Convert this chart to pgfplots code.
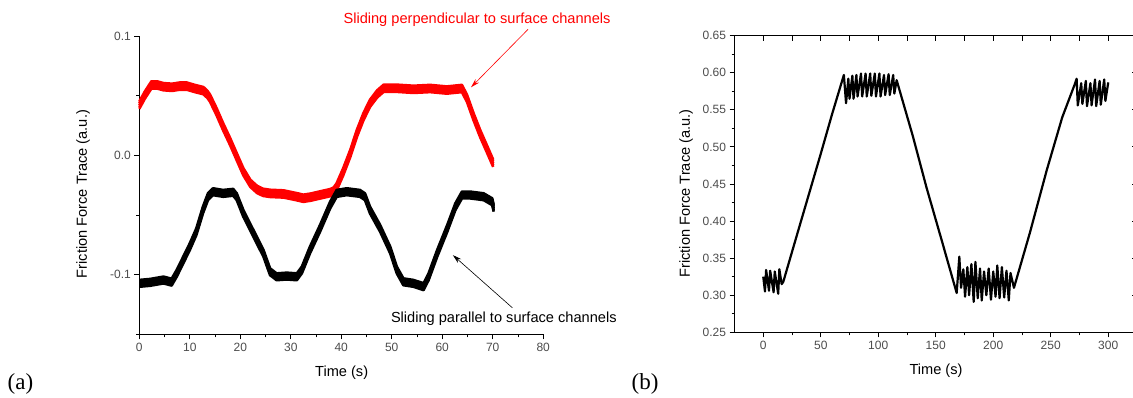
\documentclass[border=0pt]{standalone}
\usepackage{fontspec}
\setmainfont{Liberation Sans}
\newfontfamily\seriffont{Liberation Serif}
\usepackage{pgfplots}
\usepackage{pgfplotstable}
\pgfplotsset{compat=1.18}
\usetikzlibrary{arrows.meta}

\pgfplotstableread{
x y
0 0.042
1.1 0.0505
2.4 0.059
3.5 0.059
4.8 0.0575
6.5 0.057
8 0.058
9.4 0.058
11 0.056
12.7 0.0542
13.5 0.051
14.0 0.048
15.3 0.0366
16.6 0.024
18.0 0.0114
19.3 -0.0012
20.6 -0.0137
22.0 -0.0235
23.3 -0.0285
24.5 -0.031
25.9 -0.0319
28.6 -0.0324
31.2 -0.0347
32.5 -0.036
34 -0.035
35.1 -0.0339
37.8 -0.0313
38.5 -0.030
39.1 -0.0263
40.4 -0.0137
41.8 0.0017
43.1 0.0184
44.4 0.0324
45.7 0.0436
47.1 0.0514
48.4 0.0562
51.0 0.0562
54.3 0.0553
57.6 0.056
60.9 0.0547
63.9 0.056
64.9 0.0478
66.2 0.0324
67.5 0.0184
68.8 0.0059
70.1 -0.0067
}\perp

\pgfplotstableread{
x y
0.0 -0.1073
2.1 -0.1065
4.8 -0.1045
6.4 -0.1063
7.4 -0.099
8.7 -0.0878
10.0 -0.0766
11.3 -0.064
12.6 -0.0459
13.6 -0.0347
14.6 -0.0305
16.6 -0.0319
18.6 -0.031
19.3 -0.0347
20.6 -0.0486
22.6 -0.0654
24.6 -0.0822
25.9 -0.0976
27.2 -0.1018
29.2 -0.1012
31.2 -0.1018
32.2 -0.0961
33.8 -0.0794
35.8 -0.0612
37.8 -0.0417
39.1 -0.0319
41.1 -0.0305
43.7 -0.0319
44.7 -0.0347
45.7 -0.0459
47.7 -0.0612
49.7 -0.0794
51.0 -0.0961
52.3 -0.106
54.3 -0.1073
56.3 -0.1101
57.3 -0.1018
59.0 -0.0822
61.0 -0.0612
62.6 -0.0431
63.9 -0.0333
65.6 -0.0333
68.2 -0.0347
69.9 -0.0389
70.2 -0.0444
}\para

\pgfplotstableread{
x y
0 0.325
1.5 0.305
2.5 0.334
5 0.306
6 0.333
9 0.304
10 0.332
13 0.302
14 0.335
16 0.315
17.4 0.318
30 0.385
49.3 0.487
60 0.545
70.1 0.597
72 0.559
74 0.592
75 0.565
77.5 0.596
78.5 0.565
81 0.597
82 0.568
85 0.599
86 0.568
89 0.599
90 0.568
93 0.599
94 0.569
97 0.599
98 0.568
101 0.599
102 0.568
105 0.597
106 0.57
109 0.598
110 0.57
113 0.597
114 0.572
116 0.59
130 0.515
142 0.445
155 0.375
168.2 0.303
170.5 0.352
172 0.31
174 0.335
175.5 0.298
177.5 0.338
179 0.30
181 0.342
183 0.291
184.5 0.345
186.5 0.296
188.5 0.336
190 0.293
192 0.332
194 0.30
196 0.336
198 0.294
200 0.332
202 0.298
203.5 0.34
205.5 0.296
207.5 0.338
209.5 0.297
211.5 0.333
213.5 0.293
215 0.33
218 0.31
232 0.385
246.4 0.468
260 0.54
271 0.585
272.5 0.592
273.5 0.556
276.5 0.586
277.5 0.558
280.5 0.589
281.5 0.555
284.5 0.586
285.5 0.556
288.5 0.591
289.5 0.555
292.5 0.589
293.5 0.557
296.5 0.591
297.5 0.562
300 0.587
}\stick

\pgfplotsset{
  mystyle/.style={
    scale only axis,
    tick align=outside,
    major tick length=5pt,
    minor tick length=3pt,
    every tick/.style={black, line width=0.9pt},
    axis line style={line width=1.1pt, -},
    ticklabel style={font=\fontsize{12}{14}\selectfont, text=black!70},
    label style={font=\fontsize{14.6}{17}\selectfont},
    /pgf/number format/assume math mode=true,
    clip=false,
  },
  band/.style={line width=2.6pt, line join=round},
}

\begin{document}
\begin{tikzpicture}
\useasboundingbox (0,0) rectangle (1133pt,398pt);

% Panel (a)
\begin{axis}[mystyle,
  at={(139.3pt,63.7pt)}, anchor=south west,
  width=403.9pt, height=298.3pt,
  xmin=0, xmax=80, ymin=-0.15, ymax=0.1,
  axis x line*=bottom, axis y line*=left,
  xtick={0,10,...,80}, minor x tick num=1,
  ytick={-0.1,0,0.1}, minor ytick={-0.15,-0.05,0.05},
  yticklabel style={/pgf/number format/fixed, /pgf/number format/fixed zerofill, /pgf/number format/precision=1},
  xlabel={Time (s)}, ylabel={Friction Force Trace (a.u.)},
  xlabel style={at={(axis description cs:0.501,-0.129)}, anchor=center},
  ylabel style={at={(axis description cs:-0.139,0.470)}, anchor=center},
]
\addplot[red, band, yshift=-3.6pt] table {\perp};
\addplot[red, band, yshift=-1.8pt] table {\perp};
\addplot[red, band] table {\perp};
\addplot[red, band, yshift=1.8pt] table {\perp};
\addplot[red, band, yshift=3.6pt] table {\perp};
\addplot[black, band, yshift=-3.4pt] table {\para};
\addplot[black, band, yshift=-1.7pt] table {\para};
\addplot[black, band] table {\para};
\addplot[black, band, yshift=1.7pt] table {\para};
\addplot[black, band, yshift=3.4pt] table {\para};
\node[text=red, font=\fontsize{14.6}{17}\selectfont] at (axis cs:66.9,0.1134) {Sliding perpendicular to surface channels};
\draw[red, line width=0.6pt, -{Stealth[length=9pt,width=5pt]}] (axis cs:77.0,0.1056) -- (axis cs:65.7,0.057);
\node[font=\fontsize{14.6}{17}\selectfont] at (axis cs:72.2,-0.1372) {Sliding parallel to surface channels};
\draw[black, line width=0.6pt, -{Stealth[length=9pt,width=5pt]}] (axis cs:73.9,-0.1278) -- (axis cs:62.1,-0.0836);
\end{axis}

% Panel (b)
\begin{axis}[mystyle,
  at={(734.5pt,65.7pt)}, anchor=south west,
  width=402.5pt, height=296.6pt,
  xmin=-25, xmax=325, ymin=0.25, ymax=0.65,
  xtick={0,50,...,300}, minor x tick num=1,
  ytick={0.25,0.3,0.35,0.4,0.45,0.5,0.55,0.6,0.65}, minor y tick num=1,
  xtick pos=left, ytick pos=left,
  yticklabel style={/pgf/number format/fixed, /pgf/number format/fixed zerofill, /pgf/number format/precision=2},
  xlabel={Time (s)}, ylabel={Friction Force Trace (a.u.)},
  xlabel style={at={(axis description cs:0.5006,-0.129)}, anchor=center},
  ylabel style={at={(axis description cs:-0.1205,0.468)}, anchor=center},
]
\addplot[black, line width=2.2pt, line join=round] table {\stick};
\end{axis}
\begin{axis}[mystyle,
  at={(734.5pt,65.7pt)}, anchor=south west,
  width=402.5pt, height=296.6pt,
  xmin=-25, xmax=325, ymin=0.25, ymax=0.65,
  tick align=inside,
  xtick={0,25,...,300}, ytick={0.3,0.35,0.4,0.45,0.5,0.55,0.6},
  xtick pos=right, ytick pos=right,
  xticklabels={}, yticklabels={},
]
\end{axis}

\node[font=\seriffont\fontsize{23}{26}\selectfont] at (20.5pt,14pt) {(a)};
\node[font=\seriffont\fontsize{23}{26}\selectfont] at (645pt,14pt) {(b)};
\end{tikzpicture}
\end{document}
